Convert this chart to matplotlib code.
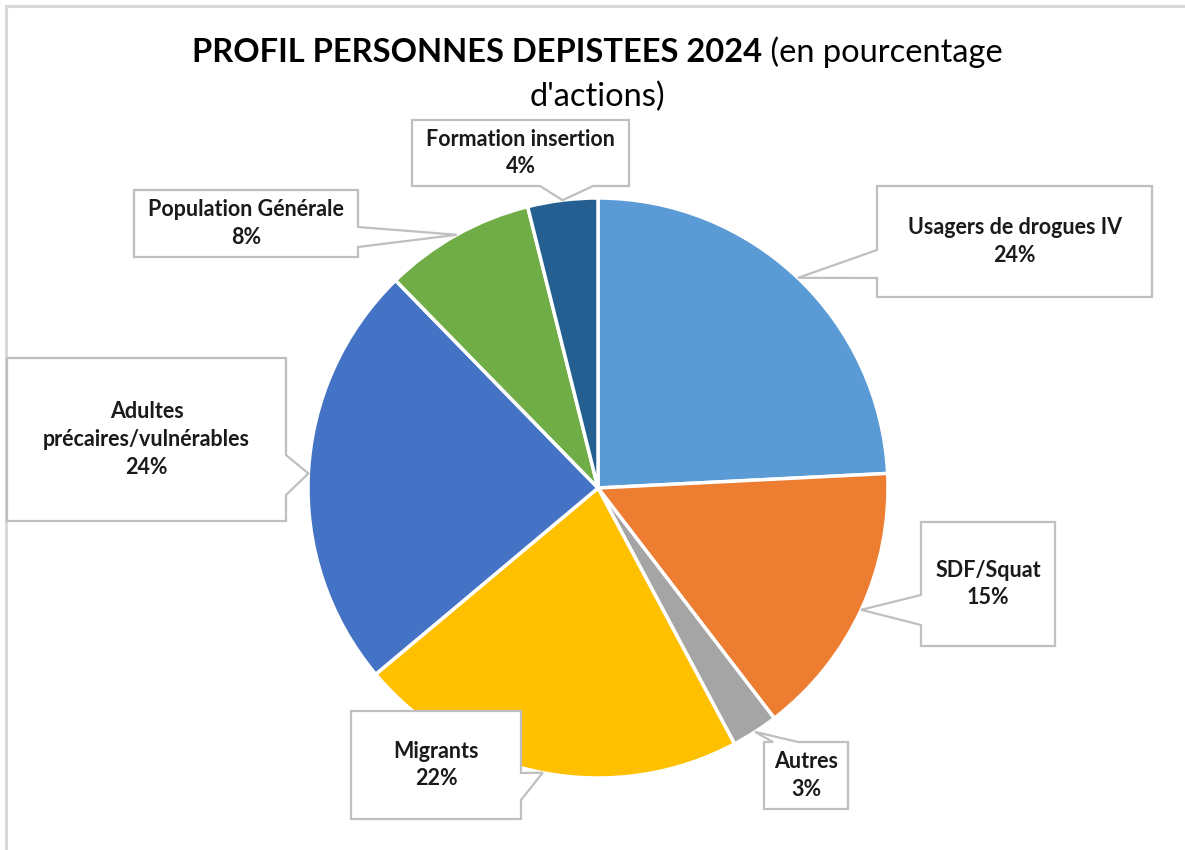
import matplotlib
matplotlib.use("Agg")
import matplotlib.pyplot as plt
from matplotlib.patches import Polygon
import numpy as np

# ---- data ----
categories = ["Usagers de drogues IV", "SDF/Squat", "Autres", "Migrants",
              "Adultes\nprécaires/vulnérables", "Population Générale",
              "Formation insertion"]
values = [24.2, 15.4, 2.6, 21.7, 23.8, 8.4, 3.9]
colors = ["#5B9BD5", "#ED7D31", "#A5A5A5", "#FFC000", "#4472C4", "#70AD47", "#255E91"]
title_bold = "PROFIL PERSONNES DEPISTEES 2024"
title_rest = " (en pourcentage"
title_line2 = "d'actions)"

W, H = 1185, 850
fig = plt.figure(figsize=(W / 100, H / 100), dpi=100)
ax = fig.add_axes([0, 0, 1, 1])
ax.set_xlim(0, W)
ax.set_ylim(0, H)
ax.axis("off")

FONT = "Lato"

def Y(y):  # image y -> axes y
    return H - y

cx, cy, R = 598, Y(488), 290
wedges, _ = ax.pie(values, colors=colors, startangle=90, counterclock=False,
                   center=(cx, cy), radius=R,
                   wedgeprops=dict(edgecolor="white", linewidth=2.5))
ax.set_xlim(0, W)
ax.set_ylim(0, H)
ax.set_aspect("equal")

# callout layout: box (x0, y0, x1, y1) in image px, side of pointer, pointer base span
layout = [
    (877, 186, 1152, 297, "left", 250, 278),
    (921, 522, 1055, 646, "left", 595, 625),
    (764, 742, 848, 809, "top", 773, 798),
    (351, 711, 521, 819, "right", 773, 800),
    (7, 358, 286, 521, "right", 455, 495),
    (134, 190, 358, 257, "right", 227, 247),
    (412, 120, 629, 186, "bottom", 540, 593),
]

edge = "#BFBFBF"
for w, lab, v, (x0, y0, x1, y1, side, a, b) in zip(wedges, categories, values, layout):
    ang = np.deg2rad((w.theta1 + w.theta2) / 2)
    tx, ty = cx + R * np.cos(ang), cy + R * np.sin(ang)
    X0, X1, Yt, Yb = x0, x1, Y(y0), Y(y1)
    if side == "left":
        pts = [(X0, Yt), (X1, Yt), (X1, Yb), (X0, Yb), (X0, Y(b)), (tx, ty), (X0, Y(a))]
    elif side == "right":
        pts = [(X0, Yt), (X1, Yt), (X1, Y(a)), (tx, ty), (X1, Y(b)), (X1, Yb), (X0, Yb)]
    elif side == "top":
        pts = [(X0, Yt), (a, Yt), (tx, ty), (b, Yt), (X1, Yt), (X1, Yb), (X0, Yb)]
    else:  # bottom
        pts = [(X0, Yt), (X1, Yt), (X1, Yb), (b, Yb), (tx, ty), (a, Yb), (X0, Yb)]
    ax.add_patch(Polygon(pts, closed=True, facecolor="white", edgecolor=edge,
                         linewidth=1.6, zorder=5))
    ax.text((X0 + X1) / 2, (Yt + Yb) / 2, f"{lab}\n{v:.0f}%", ha="center", va="center",
            fontsize=15.5, fontweight="bold", family=FONT, color="#1A1A1A",
            linespacing=1.4, zorder=6)

# chart border (top & left visible)
ax.plot([6, 6], [0, Y(6)], color="#D9D9D9", lw=2.2)
ax.plot([6, W], [Y(6), Y(6)], color="#D9D9D9", lw=2.2)

# title
fig.canvas.draw()
r = fig.canvas.get_renderer()
t1 = ax.text(0, Y(52), title_bold, ha="left", va="center", fontsize=23.5,
             fontweight="bold", family=FONT, color="black")
t2 = ax.text(0, Y(52), title_rest, ha="left", va="center", fontsize=23.5,
             family=FONT, color="black")
w1 = t1.get_window_extent(r).width
w2 = t2.get_window_extent(r).width
start = 597 - (w1 + w2) / 2
t1.set_x(start)
t2.set_x(start + w1)
ax.text(597, Y(97), title_line2, ha="center", va="center", fontsize=23.5,
        family=FONT, color="black")

fig.savefig("out.png", dpi=100, facecolor="white")
